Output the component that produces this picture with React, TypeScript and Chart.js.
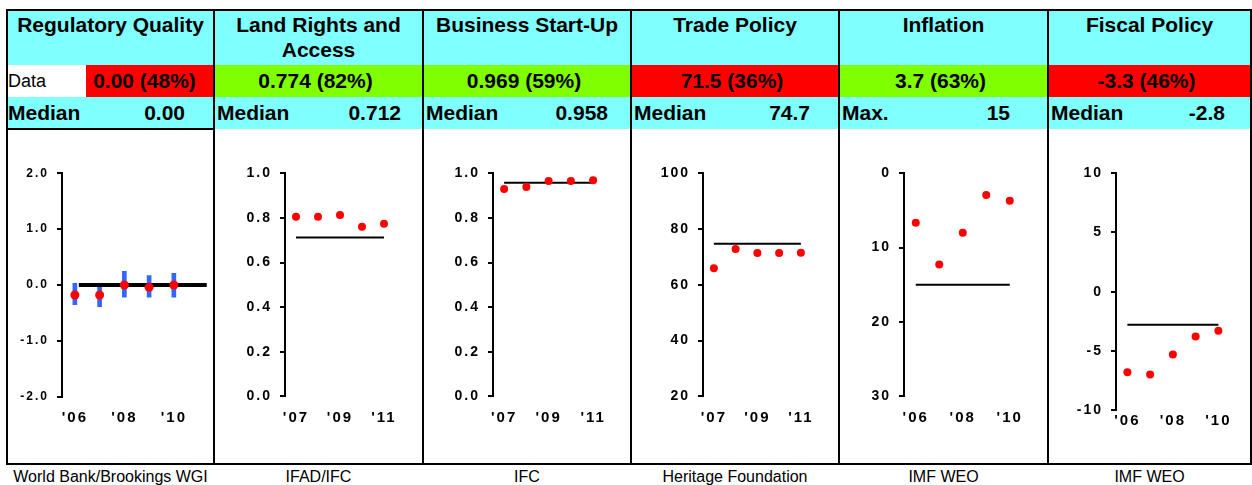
import React, { useEffect, useRef } from 'react';
import { Chart, registerables } from 'chart.js';

Chart.register(...registerables);

// ---------- data ----------
const titles = ['Regulatory Quality', 'Land Rights and\nAccess', 'Business Start-Up', 'Trade Policy', 'Inflation', 'Fiscal Policy'];
const dataLabels = ['0.00 (48%)', '0.774 (82%)', '0.969 (59%)', '71.5 (36%)', '3.7 (63%)', '-3.3 (46%)'];
const refNames = ['Median', 'Median', 'Median', 'Median', 'Max.', 'Median'];
const refLabels = ['0.00', '0.712', '0.958', '74.7', '15', '-2.8'];
const refValues = [0.0, 0.712, 0.958, 74.7, 15, -2.8];
const sources = ['World Bank/Brookings WGI', 'IFAD/IFC', 'IFC', 'Heritage Foundation', 'IMF WEO', 'IMF WEO'];

const years0610 = ["'06", "'07", "'08", "'09", "'10"];
const years0711 = ["'07", "'08", "'09", "'10", "'11"];

const regulatoryQuality = [-0.18, -0.18, 0.0, -0.04, 0.0];
const regulatoryQualityLow = [-0.35, -0.39, -0.22, -0.22, -0.22];
const regulatoryQualityHigh = [0.03, 0.03, 0.245, 0.17, 0.21];
const landRights = [0.805, 0.805, 0.813, 0.76, 0.774];
const businessStartUp = [0.93, 0.939, 0.966, 0.966, 0.969];
const tradePolicy = [65.9, 72.8, 71.4, 71.4, 71.5];
const inflation = [6.65, 12.26, 8.0, 2.92, 3.7];
const fiscalPolicy = [-6.8, -7.0, -5.3, -3.8, -3.3];

const seriesList = [regulatoryQuality, landRights, businessStartUp, tradePolicy, inflation, fiscalPolicy];
const yearList = [years0610, years0711, years0711, years0711, years0610, years0610];
const shownYearIdx = [0, 2, 4];
const medianSpans = [[0.16, 5.33], [0, 4], [0, 4], [0, 4], [0, 4], [0, 4]];
const yMins = [-2, 0, 0, 20, 0, -10];
const yMaxs = [2, 1, 1, 100, 30, 10];
const ySteps = [1, 0.2, 0.2, 20, 10, 5];
const yDecimals = [1, 1, 1, 0, 0, 0];
const yReversed = [false, false, false, false, true, false];

// ---------- layout / style ----------
const FONT = '"Liberation Sans", Arial, sans-serif';
const CYAN = '#80FFFF';
const RED = '#FF0000';
const GREEN = '#80FF00';
const dataColors = [RED, GREEN, GREEN, RED, GREEN, RED];
const dividers = [7, 214, 423, 631, 839, 1048, 1251];
const refValueRight = [185, 401, 608, 810, 1010, 1225];
const CANVAS_TOP = 131;
const CANVAS_BOTTOM = 462;
const XAXIS_H = 40;
const layouts = [
  { axisX: 62, top: 173.3, bottom: 396.7, xMin: -0.52, xMax: 5.4, spacing: 24.75, yFont: 12, radius: 4.5, medianW: 4 },
  { axisX: 285, top: 173.3, bottom: 396.3, xMin: -0.5, xMax: 4.5, spacing: 22, yFont: 14, radius: 4, medianW: 2 },
  { axisX: 493, top: 173.3, bottom: 396.3, xMin: -0.5, xMax: 4.5, spacing: 22.25, yFont: 14, radius: 4, medianW: 2 },
  { axisX: 703, top: 173.3, bottom: 396.3, xMin: -0.5, xMax: 4.5, spacing: 21.75, yFont: 14, radius: 4, medianW: 2 },
  { axisX: 904, top: 173.3, bottom: 396.3, xMin: -0.5, xMax: 4.5, spacing: 23.5, yFont: 14, radius: 4, medianW: 2 },
  { axisX: 1116, top: 173.3, bottom: 410, xMin: -0.5, xMax: 4.5, spacing: 22.75, yFont: 14, radius: 4, medianW: 2 },
];

const spacingPlugin = {
  id: 'letterSpacing',
  beforeDraw(chart: any) {
    chart.ctx.letterSpacing = '2px';
  },
  afterDraw(chart: any) {
    chart.ctx.letterSpacing = '0px';
  },
};

function PanelChart({ idx }: { idx: number }) {
  const ref = useRef<HTMLCanvasElement>(null);
  const L = layouts[idx];
  const left = dividers[idx] + 1;
  const width = dividers[idx + 1] - dividers[idx] - 2;
  const height = CANVAS_BOTTOM - CANVAS_TOP;

  useEffect(() => {
    const canvas = ref.current;
    if (!canvas) return;
    const plotRight = L.axisX + (L.xMax - L.xMin) * L.spacing;
    const yAxisW = L.axisX - left;
    const padTop = L.top - CANVAS_TOP;
    const padBottom = height - (L.bottom - CANVAS_TOP) - XAXIS_H;
    const padRight = left + width - plotRight;
    const labelCenter = idx === 5 ? 420.5 : 418.3;
    const xPad = labelCenter - L.bottom - 9;
    const years = yearList[idx];
    const values = seriesList[idx];

    const datasets: any[] = [
      {
        type: 'scatter',
        data: values.map((v, i) => ({ x: i, y: v })),
        pointRadius: L.radius,
        pointBackgroundColor: RED,
        pointBorderWidth: 0,
        backgroundColor: RED,
        borderWidth: 0,
        order: 0,
      },
      {
        type: 'line',
        data: medianSpans[idx].map((x) => ({ x, y: refValues[idx] })),
        borderColor: '#000000',
        borderWidth: L.medianW,
        pointRadius: 0,
        fill: false,
        order: 1,
      },
    ];
    if (idx === 0) {
      datasets.push({
        type: 'bar',
        data: regulatoryQualityLow.map((lo, i) => ({ x: i, y: [lo, regulatoryQualityHigh[i]] })),
        backgroundColor: '#3366FF',
        borderWidth: 0,
        barThickness: 4,
        order: 2,
      });
    }

    const chart = new Chart(canvas, {
      type: 'scatter',
      data: { datasets },
      plugins: [spacingPlugin],
      options: {
        responsive: false,
        animation: false,
        events: [],
        layout: { padding: { top: padTop, right: padRight, bottom: padBottom, left: 0 } },
        plugins: { legend: { display: false }, tooltip: { enabled: false } },
        scales: {
          x: {
            type: 'linear',
            offset: false,
            min: L.xMin,
            max: L.xMax,
            afterFit: (s: any) => {
              s.height = XAXIS_H;
            },
            afterBuildTicks: (s: any) => {
              s.ticks = shownYearIdx.map((v) => ({ value: v }));
            },
            grid: { display: false, drawTicks: false, offset: false },
            border: { display: false },
            ticks: {
              autoSkip: false,
              maxRotation: 0,
              minRotation: 0,
              padding: xPad,
              color: '#000000',
              font: { family: FONT, size: 15, weight: 'bold' },
              callback: (v: any) => years[v] ?? '',
            },
          },
          y: {
            type: 'linear',
            offset: false,
            min: yMins[idx],
            max: yMaxs[idx],
            reverse: yReversed[idx],
            afterFit: (s: any) => {
              s.width = yAxisW;
            },
            grid: { display: true, drawOnChartArea: false, drawTicks: true, tickLength: 5, color: '#000000', lineWidth: 2 },
            border: { display: true, color: '#000000', width: 2 },
            ticks: {
              stepSize: ySteps[idx],
              padding: 8,
              color: '#000000',
              font: { family: FONT, size: L.yFont, weight: 'bold' },
              callback: (v: any) => Number(v).toFixed(yDecimals[idx]),
            },
          },
        },
      } as any,
    });
    return () => chart.destroy();
  }, [idx]);

  return (
    <canvas
      ref={ref}
      width={width}
      height={height}
      style={{ position: 'absolute', left, top: CANVAS_TOP, width, height }}
    />
  );
}

const abs = (l: number, t: number, w: number, h: number, extra: any = {}) => ({
  position: 'absolute' as const,
  left: l,
  top: t,
  width: w,
  height: h,
  boxSizing: 'border-box' as const,
  ...extra,
});

export default function App() {
  const cells: any[] = [];
  for (let i = 0; i < 6; i++) {
    const L = dividers[i] + 1;
    const R = dividers[i + 1] - 1;
    const W = R - L;
    cells.push(
      <div
        key={'t' + i}
        style={abs(L, 11, W, 54, {
          background: CYAN,
          textAlign: 'center',
          fontFamily: FONT,
          fontWeight: 'bold',
          fontSize: 21,
          lineHeight: '25px',
          paddingTop: 1,
          whiteSpace: 'pre-line',
          color: '#000',
        })}
      >
        {titles[i]}
      </div>
    );
    if (i === 0) {
      cells.push(
        <div
          key={'dl' + i}
          style={abs(L, 65, 86 - L, 32, {
            background: '#FFFFFF',
            fontFamily: FONT,
            fontSize: 18,
            lineHeight: '32px',
            paddingLeft: 0,
            color: '#000',
          })}
        >
          Data
        </div>
      );
      cells.push(
        <div
          key={'dv' + i}
          style={abs(86, 65, R - 86, 32, {
            background: dataColors[i],
            fontFamily: FONT,
            fontWeight: 'bold',
            fontSize: 21,
            lineHeight: '32px',
            textAlign: 'center',
            paddingRight: 10,
            color: '#000',
          })}
        >
          {dataLabels[i]}
        </div>
      );
    } else {
      cells.push(
        <div
          key={'dv' + i}
          style={abs(L, 65, W, 32, {
            background: dataColors[i],
            fontFamily: FONT,
            fontWeight: 'bold',
            fontSize: 21,
            lineHeight: '32px',
            textAlign: 'center',
            paddingRight: 6,
            color: '#000',
          })}
        >
          {dataLabels[i]}
        </div>
      );
    }
    cells.push(
      <div
        key={'m' + i}
        style={abs(L, 97, W, 32, {
          background: CYAN,
          fontFamily: FONT,
          fontWeight: 'bold',
          fontSize: 21,
          lineHeight: '32px',
          color: '#000',
        })}
      >
        <span style={{ position: 'absolute', left: i === 0 ? 0 : 2, top: 0 }}>{refNames[i]}</span>
        <span style={{ position: 'absolute', right: R - refValueRight[i], top: 0 }}>{refLabels[i]}</span>
      </div>
    );
    cells.push(
      <div
        key={'s' + i}
        style={abs(dividers[i], 466, dividers[i + 1] - dividers[i], 22, {
          fontFamily: FONT,
          fontSize: 16,
          lineHeight: '22px',
          textAlign: 'center',
          color: '#000',
          whiteSpace: 'nowrap',
        })}
      >
        {sources[i]}
      </div>
    );
  }

  const lines: any[] = [];
  dividers.forEach((x, i) => {
    lines.push(<div key={'v' + i} style={abs(x - 1, 9, 2, 456, { background: '#000' })} />);
  });
  lines.push(<div key="top" style={abs(6, 9, 1246, 2, { background: '#000' })} />);
  lines.push(<div key="bot" style={abs(6, 463, 1246, 2, { background: '#000' })} />);
  lines.push(<div key="p1" style={abs(6, 128, 209, 2, { background: '#000' })} />);

  return (
    <div style={{ position: 'absolute', left: 0, top: 0, width: 1252, height: 485, background: '#FFFFFF', overflow: 'hidden' }}>
      {cells}
      {[0, 1, 2, 3, 4, 5].map((i) => (
        <PanelChart key={'c' + i} idx={i} />
      ))}
      {lines}
    </div>
  );
}
